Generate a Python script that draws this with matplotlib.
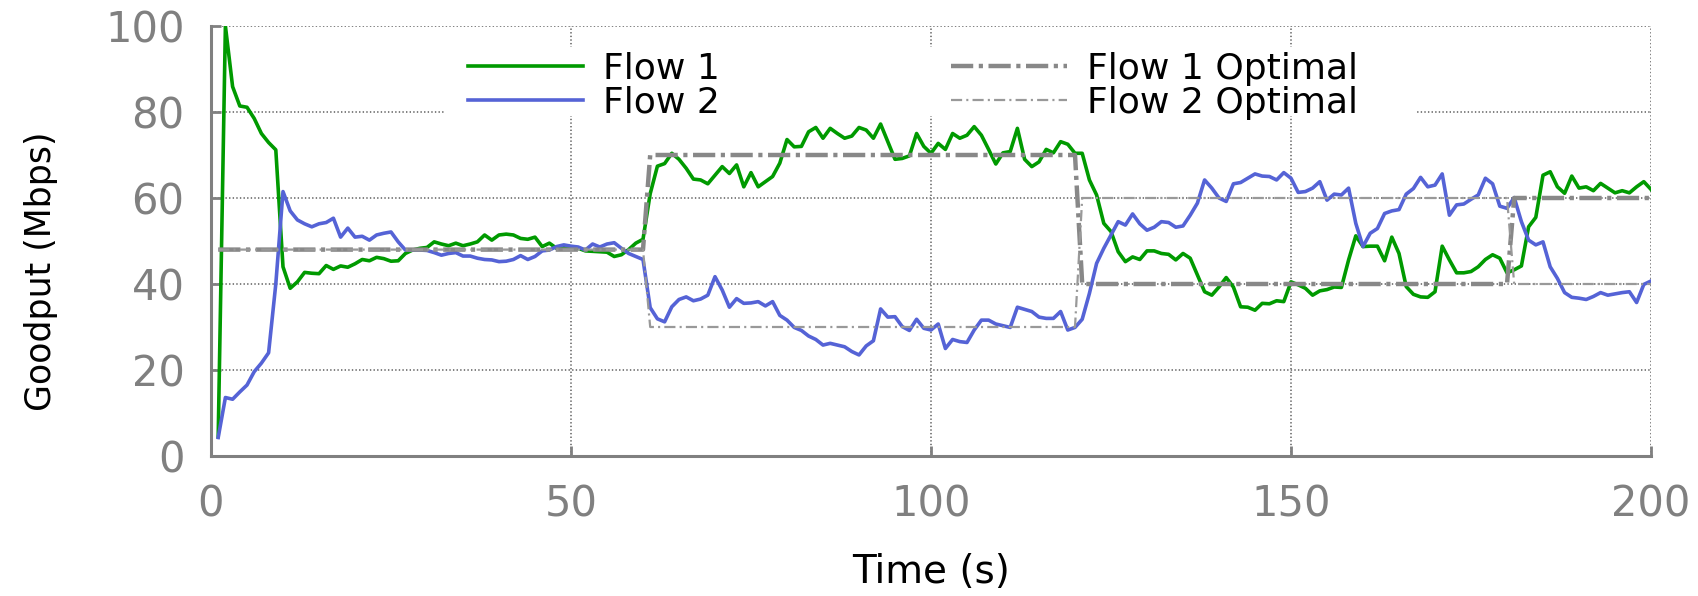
import numpy as np
import matplotlib
matplotlib.use("Agg")
import matplotlib.pyplot as plt
from matplotlib.patches import Rectangle

plt.rcParams['font.family'] = ['DejaVu Sans']
plt.rcParams['lines.scale_dashes'] = False

# ---------------- data ----------------
time_s = list(range(1, 201))

flow1 = [4.5, 100, 85.9, 81.4, 81.1, 78.5, 75.0, 72.9, 71.2, 44.0,
         39.0, 40.5, 42.7, 42.5, 42.4, 44.3, 43.4, 44.2, 43.9, 44.7,
         45.7, 45.4, 46.2, 45.9, 45.3, 45.4, 47.1, 47.9, 48.3, 48.5,
         49.8, 49.3, 48.9, 49.5, 48.9, 49.3, 49.8, 51.4, 50.2, 51.4,
         51.6, 51.4, 50.6, 50.4, 50.9, 48.7, 49.5, 48.3, 48.7, 48.6,
         48.3, 47.7, 47.6, 47.5, 47.4, 46.4, 46.8, 48.0, 49.5, 50.4,
         61.0, 67.4, 68.0, 70.4, 69.0, 66.9, 64.4, 64.2, 63.3, 65.3,
         67.3, 65.7, 67.7, 62.6, 65.9, 62.6, 63.8, 65.0, 68.1, 73.6,
         71.9, 72.0, 75.4, 76.4, 73.9, 76.2, 75.0, 73.9, 74.4, 76.4,
         75.8, 73.9, 77.2, 73.1, 69.0, 69.2, 69.8, 75.0, 72.0, 70.4,
         72.7, 71.3, 75.0, 73.9, 74.6, 76.6, 74.6, 71.3, 67.9, 70.5,
         70.8, 76.2, 69.0, 67.3, 68.4, 71.3, 70.5, 73.1, 72.5, 70.4,
         70.4, 64.2, 60.7, 54.1, 52.2, 47.5, 45.2, 46.3, 45.7, 47.7,
         47.7, 47.1, 46.9, 45.6, 47.1, 46.0, 42.1, 38.2, 37.4, 39.3,
         41.5, 39.3, 34.7, 34.6, 33.9, 35.5, 35.4, 36.1, 35.9, 40.5,
         39.8, 39.0, 37.4, 38.4, 38.7, 39.3, 39.2, 45.6, 51.2, 48.7,
         48.8, 48.8, 45.4, 50.9, 47.1, 39.4, 37.6, 37.0, 36.9, 38.2,
         48.8, 45.6, 42.6, 42.6, 42.9, 44.0, 45.7, 46.8, 46.0, 42.6,
         43.3, 44.2, 53.3, 55.5, 65.3, 66.1, 62.6, 61.1, 65.1, 62.3,
         62.6, 61.7, 63.4, 62.3, 61.2, 61.7, 61.2, 62.6, 63.8, 62.0]

flow2 = [4.3, 13.6, 13.2, 14.9, 16.5, 19.6, 21.6, 24.0, 40.0, 61.5,
         57.0, 54.9, 54.0, 53.3, 54.0, 54.3, 55.3, 50.9, 53.0, 50.9,
         51.1, 50.2, 51.4, 51.8, 52.1, 49.8, 47.9, 47.9, 47.9, 47.8,
         47.3, 46.7, 47.1, 47.3, 46.5, 46.5, 46.0, 45.7, 45.6, 45.2,
         45.3, 45.7, 46.6, 45.7, 46.4, 47.7, 47.9, 48.7, 49.1, 48.8,
         48.6, 47.9, 49.3, 48.6, 49.3, 49.6, 48.3, 47.1, 46.4, 45.7,
         34.5, 31.9, 31.2, 34.7, 36.4, 37.0, 36.1, 36.5, 37.4, 41.7,
         38.6, 34.6, 36.6, 35.5, 35.6, 35.9, 34.9, 35.9, 32.7, 31.6,
         29.9, 29.2, 27.9, 27.1, 25.8, 26.2, 25.8, 25.4, 24.3, 23.5,
         25.6, 26.8, 34.2, 32.3, 32.4, 30.1, 29.2, 31.8, 29.7, 29.3,
         30.7, 25.0, 27.1, 26.6, 26.4, 29.3, 31.6, 31.6, 30.7, 30.3,
         29.9, 34.6, 34.1, 33.6, 32.3, 32.0, 32.0, 33.6, 29.3, 29.9,
         31.8, 37.8, 44.8, 48.3, 51.4, 54.5, 53.7, 56.3, 54.0, 52.5,
         53.2, 54.5, 54.3, 53.2, 53.5, 56.0, 58.8, 64.2, 62.3, 60.0,
         59.2, 63.3, 63.6, 64.6, 65.6, 65.1, 65.0, 64.2, 65.9, 64.6,
         61.3, 61.5, 62.3, 63.8, 59.5, 60.9, 60.7, 62.3, 54.1, 48.7,
         51.8, 52.9, 56.4, 57.0, 57.3, 60.9, 62.2, 64.8, 62.6, 63.0,
         65.6, 56.0, 58.4, 58.6, 59.7, 60.7, 64.6, 63.3, 58.1, 57.6,
         60.1, 54.5, 50.2, 49.1, 49.8, 44.0, 41.3, 38.0, 36.9, 36.7,
         36.4, 37.1, 38.0, 37.4, 37.7, 38.0, 38.2, 35.7, 39.9, 40.7]

opt_time = [1, 60, 61, 120, 121, 180, 181, 200]
flow1_opt = [48, 48, 70, 70, 40, 40, 60, 60]
flow2_opt = [48, 48, 30, 30, 60, 60, 40, 40]

series_labels = ["Flow 1", "Flow 2", "Flow 1 Optimal", "Flow 2 Optimal"]
x_ticks = [0, 50, 100, 150, 200]
y_ticks = [0, 20, 40, 60, 80, 100]

# ---------------- figure ----------------
W, H = 1698, 596
fig = plt.figure(figsize=(W / 100, H / 100), dpi=100)
AX_L, AX_R, AX_T, AX_B = 211, 1651, 26, 456
ax = fig.add_axes([AX_L / W, 1 - AX_B / H, (AX_R - AX_L) / W, (AX_B - AX_T) / H])

GRAY = '#808080'
GREEN = '#009a00'
BLUE = '#5563d6'

l1, = ax.plot(time_s, flow1, color=GREEN, lw=2.6, zorder=3)
l2, = ax.plot(time_s, flow2, color=BLUE, lw=2.6, zorder=3)
l3, = ax.plot(opt_time, flow1_opt, color='#888888', lw=3.2, zorder=4,
              dashes=(16, 4, 3, 4))
l4, = ax.plot(opt_time, flow2_opt, color='#999999', lw=1.6, zorder=4,
              dashes=(8, 3, 1.5, 3))

ax.set_xlim(0, 200)
ax.set_ylim(0, 100)
ax.set_xticks(x_ticks)
ax.set_yticks(y_ticks)

ax.grid(True, color=GRAY, linestyle=(0, (1, 1.6)), linewidth=1.4)
ax.set_axisbelow(True)

for s in ['top', 'right']:
    ax.spines[s].set_visible(False)
for s in ['left', 'bottom']:
    ax.spines[s].set_color(GRAY)
    ax.spines[s].set_linewidth(2.2)

ax.tick_params(axis='both', direction='in', length=7, width=2.0, color=GRAY,
               labelcolor=GRAY, labelsize=30)
ax.tick_params(axis='y', pad=19)
ax.tick_params(axis='x', pad=20)

ax.set_xlabel("Time (s)", fontsize=28, color='black')
ax.set_ylabel("Goodput (Mbps)", fontsize=25, color='black')
ax.xaxis.set_label_coords(0.5, -0.225)
ax.yaxis.set_label_coords(-0.1060, 0.43)

# white key background (hides the grid behind the key, data drawn above)
def ax_frac_x(px):
    return (px - AX_L) / (AX_R - AX_L)

def ax_frac_y(py):
    return (AX_B - py) / (AX_B - AX_T)

bg = Rectangle((ax_frac_x(445), ax_frac_y(116)),
               ax_frac_x(1415) - ax_frac_x(445), ax_frac_y(47) - ax_frac_y(116),
               transform=ax.transAxes, facecolor='white', edgecolor='none',
               zorder=1)
ax.add_patch(bg)

leg = ax.legend([l1, l2, l3, l4], series_labels, ncol=2, loc='upper left',
                bbox_to_anchor=(ax_frac_x(457), ax_frac_y(41)),
                borderaxespad=0, frameon=False, fontsize=26,
                handlelength=3.2, handletextpad=0.55, columnspacing=6.4,
                labelspacing=0.0, borderpad=0.3)
leg.set_zorder(5)

fig.savefig("out.png", dpi=100)
